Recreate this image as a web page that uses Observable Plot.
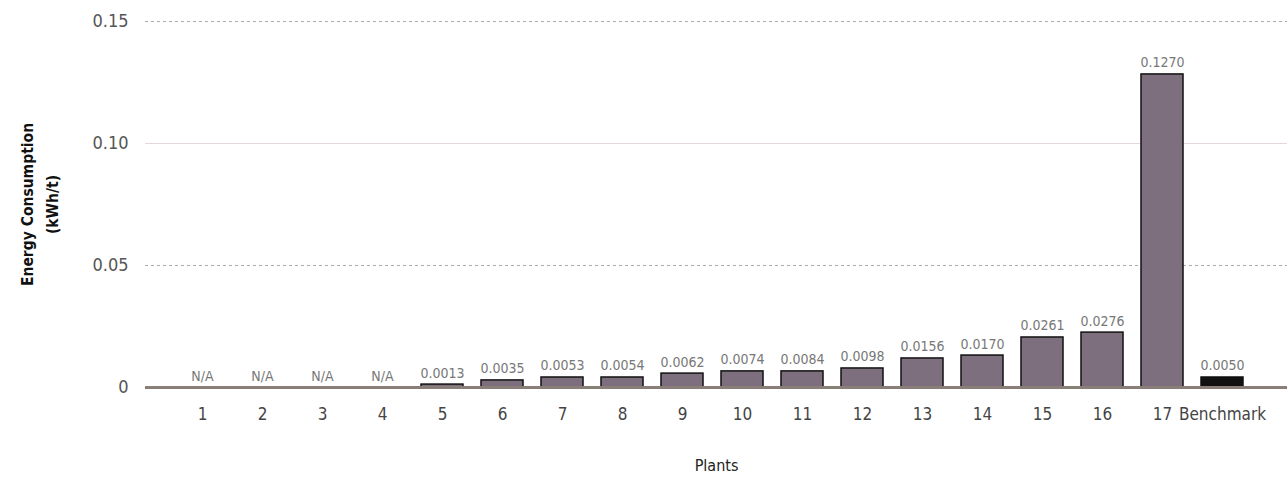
<!DOCTYPE html>
<html><head><meta charset="utf-8">
<script src="https://cdn.jsdelivr.net/npm/d3@7"></script>
<script src="https://cdn.jsdelivr.net/npm/@observablehq/plot@0.6"></script>
<style>body{margin:0;background:#fff} svg text{font-stretch:condensed}</style>
</head><body><div id="chart"></div>
<script>
const plants = ["1","2","3","4","5","6","7","8","9","10","11","12","13","14","15","16","17","Benchmark"];
const values = [0,0,0,0,0.0012,0.0029,0.0041,0.0041,0.0057,0.0066,0.0066,0.0078,0.0119,0.0131,0.0205,0.0225,0.1283,0.0041];
const valueLabels = ["N/A","N/A","N/A","N/A","0.0013","0.0035","0.0053","0.0054","0.0062","0.0074","0.0084","0.0098","0.0156","0.0170","0.0261","0.0276","0.1270","0.0050"];
const yTicks = [0, 0.05, 0.10, 0.15];
const yTitle = "Energy Consumption\n(kWh/t)";
const xTitle = "Plants";

const data = plants.map((p, i) => ({plant: p, value: values[i], label: valueLabels[i], bench: p === "Benchmark"}));
const font = "'DejaVu Sans Condensed','DejaVu Sans',sans-serif";

const chart = Plot.plot({
  width: 1287, height: 492,
  marginLeft: 145, marginRight: 0, marginTop: 21, marginBottom: 105,
  style: {fontFamily: font, fontSize: "16px", color: "#555", background: "#fff"},
  x: {domain: plants, padding: 0.3, paddingOuter: 0.2, insetLeft: 20, insetRight: 28, label: null},
  y: {domain: [0, 0.15], label: null},
  marks: [
    Plot.ruleY([0.05, 0.15], {stroke: "#aaa", strokeDasharray: "3,3", strokeWidth: 1}),
    Plot.ruleY([0.10], {stroke: "#e4d8d8", strokeWidth: 1}),
    Plot.barY(data, {x: "plant", y: "value", fill: d => d.bench ? "#111" : "#7e6f7f", stroke: "#111", strokeWidth: 1.5, strokeDasharray: d => d.bench ? null : "1.5,1.5"}),
    Plot.ruleY([0], {stroke: "#8a7e79", strokeWidth: 3}),
    Plot.text(data, {x: "plant", y: "value", text: "label", lineAnchor: "bottom", dy: -7, fill: "#777", fontSize: 14}),
    Plot.axisY({ticks: yTicks, tickSize: 0, tickPadding: 17, tickFormat: d => d === 0 ? "0" : d.toFixed(2), fontSize: 18, fill: "#555", label: null}),
    Plot.axisX({tickSize: 0, tickPadding: 20, fontSize: 17, fill: "#444", label: null}),
    Plot.text([yTitle], {frameAnchor: "left", textAnchor: "middle", rotate: -90, dx: -108, fontWeight: "bold", fontSize: 15.5, fill: "#111", lineHeight: 1.6}),
    Plot.text([xTitle], {frameAnchor: "bottom", dy: 83, fontSize: 16, fill: "#222"})
  ]
});
document.getElementById("chart").append(chart);
</script></body></html>
